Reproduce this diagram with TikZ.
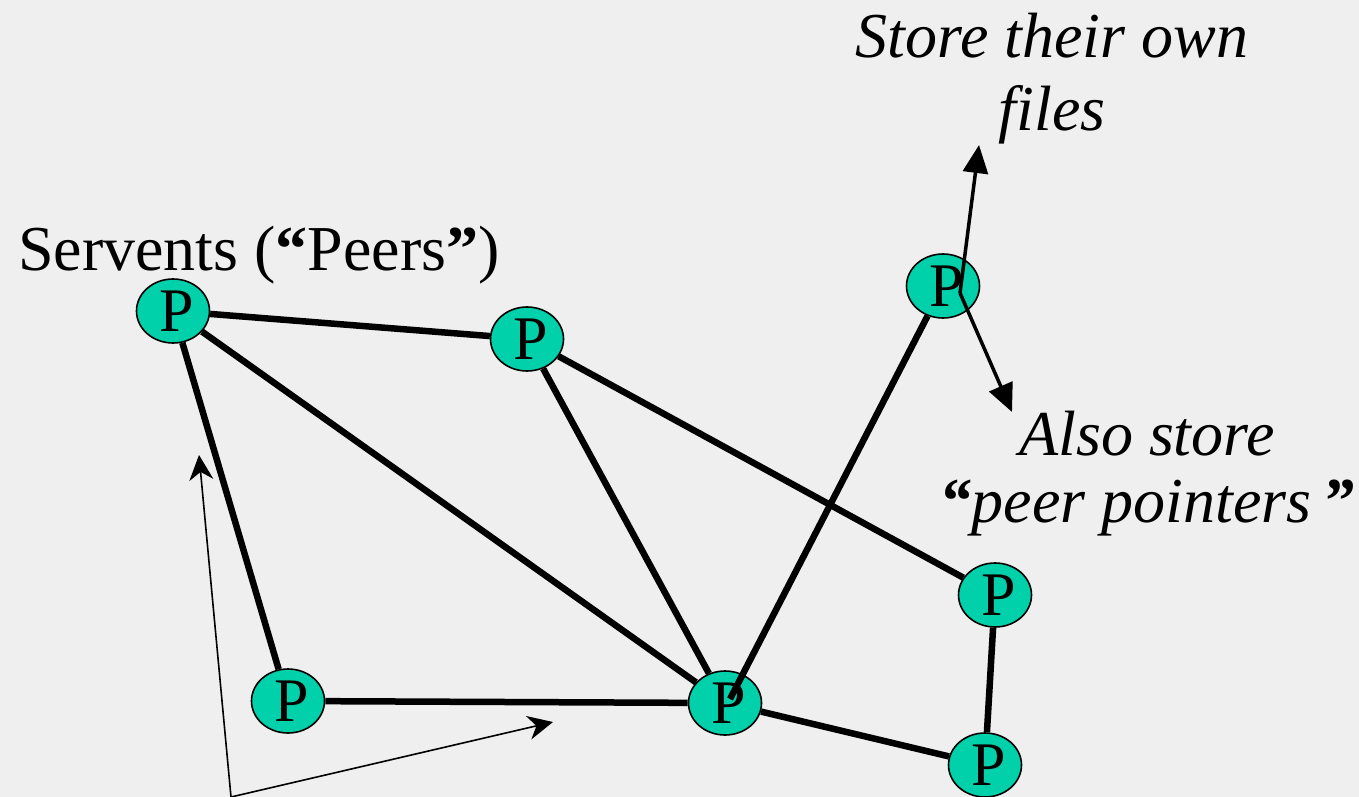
\documentclass[tikz,border=0pt]{standalone}
\usepackage{fontspec}
\setmainfont{Liberation Serif}
\usetikzlibrary{arrows.meta,shapes.geometric}
\definecolor{bg}{RGB}{239,239,239}
\definecolor{peerfill}{RGB}{0,209,170}
\begin{document}
\begin{tikzpicture}[x=1pt,y=-1pt,
  peer/.style={ellipse,draw=black,line width=1.6pt,fill=peerfill,minimum width=73pt,minimum height=64pt,inner sep=0pt,font=\fontsize{62}{62}\selectfont},
  link/.style={line width=6.5pt},
  pointer/.style={line width=3.5pt,-{Triangle[length=28pt,width=25pt]}},
  hint/.style={line width=1.6pt,-{Stealth[length=25pt,width=24pt,inset=8pt]}},
  lbl/.style={inner sep=0pt,font=\fontsize{64}{73}\selectfont}]
\fill[bg] (0,0) rectangle (1359,797);
\useasboundingbox (0,0) rectangle (1359,797);
% peers
\node[peer] (P1) at (173,311) {\hspace*{8pt}P};
\node[peer] (P2) at (527,339) {\hspace*{8pt}P};
\node[peer] (P3) at (943,286) {\hspace*{8pt}P};
\node[peer] (P4) at (288,701) {\hspace*{8pt}P};
\node[peer] (P5) at (725,703) {\hspace*{8pt}P};
\node[peer] (P6) at (995,595) {\hspace*{8pt}P};
\node[peer] (P7) at (985,765) {\hspace*{8pt}P};
% links
\draw[link] (P1) -- (P2);
\draw[link] (P1) -- (P4);
\draw[link] (P1) -- (P5);
\draw[link] (P2) -- (P5);
\draw[link] (P2) -- (P6);
\draw[link] (P3) -- ([shift={(5,-4)}]P5.center);
\draw[link] (P4) -- (P5);
\draw[link] (P5) -- (P7);
\draw[link] (P6) -- (P7);
% pointer arrows at P3
\coordinate (p3in) at ([shift={(17,7)}]P3.center);
\coordinate (filesTip) at (979,145);
\coordinate (ptrTip) at (1012,412);
\draw[pointer] (p3in) -- (filesTip);
\draw[pointer] (p3in) -- (ptrTip);
% hint arrows at bottom
\coordinate (vtx) at (231,797);
\coordinate (upTip) at (199,455);
\coordinate (rightTip) at (553,722);
\draw[hint] (vtx) -- (upTip);
\draw[hint] (vtx) -- (rightTip);
% labels
\node[lbl,anchor=base west] (servents) at (18,270) {Servents (\textbf{“}Peers\textbf{”})};
\node[lbl,anchor=north,align=center,font=\fontsize{64}{73}\selectfont\itshape] (storelbl) at (1052,13) {Store their own\\files};
\node[lbl,anchor=north,align=center,font=\fontsize{64}{67}\selectfont\itshape] (alsolbl) at (1147,411) {Also store\\\textbf{“}peer pointers\,\textbf{”}};
\end{tikzpicture}
\end{document}
